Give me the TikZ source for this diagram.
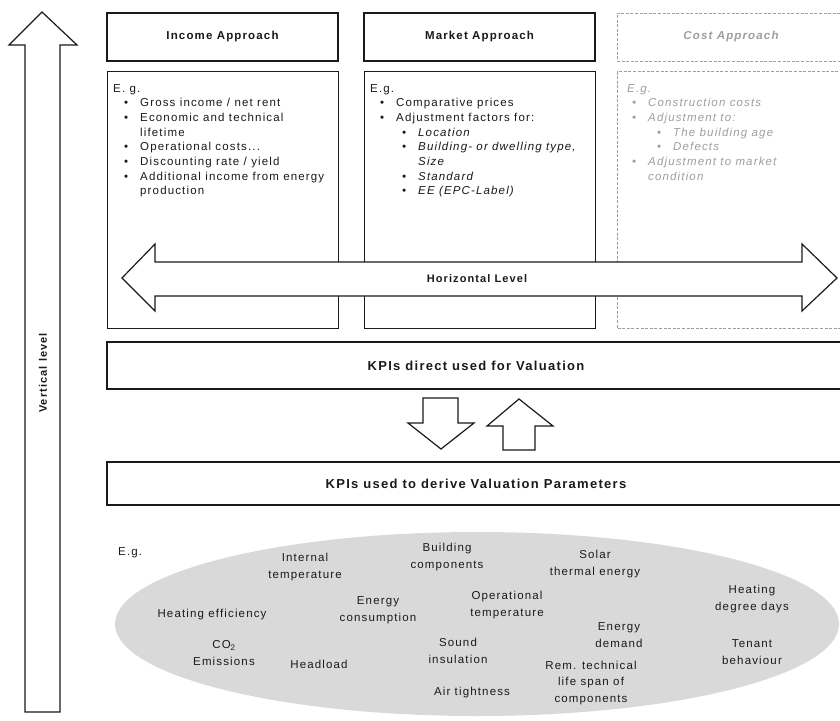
\documentclass[tikz,border=0pt]{standalone}
\usepackage{fontspec}
\setmainfont{Liberation Sans}[LetterSpace=10]
\usetikzlibrary{shapes.geometric}
\definecolor{ink}{HTML}{1A1A1A}
\definecolor{costgray}{HTML}{9E9E9E}
\definecolor{ellgray}{HTML}{D9D9D9}
\newcommand\bul{\llap{\textbullet\hspace{12pt}}}
\begin{document}
\begin{tikzpicture}[x=1pt,y=-1pt,
  box/.style={draw=ink, line width=1.2pt, fill=white, inner sep=0pt},
  costbox/.style={draw=costgray, line width=1pt, dash pattern=on 3pt off 1.6pt, inner sep=0pt},
  hd/.style={font=\fontsize{11.5}{13}\selectfont\bfseries, text=ink},
  kpi/.style={font=\fontsize{13}{15}\selectfont\bfseries, text=ink},
  ln/.style={anchor=base west, inner sep=0pt, font=\fontsize{11.5}{13}\selectfont, text=ink},
  lni/.style={ln, font=\fontsize{11.5}{13}\selectfont\itshape},
  cln/.style={ln, text=costgray, font=\fontsize{11.5}{13}\selectfont\itshape},
  blk/.style={draw=ink, line width=1.2pt, fill=white, line join=miter},
  lab/.style={align=center, font=\fontsize{11.5}{16.5}\selectfont, text=ink, inner sep=0pt}
]
\useasboundingbox (0,0) rectangle (840,720);
\fill[white] (0,0) rectangle (840,720);
\clip (0,0) rectangle (840,720);

% vertical arrow
\draw[blk] (25,712) -- (25,45) -- (9,45) -- (42,12) -- (77,45) -- (60,45) -- (60,712) -- cycle;
\node[rotate=90, font=\fontsize{11}{13}\selectfont\bfseries, text=ink] (vlevel) at (43,373) {Vertical level};

% headers
\node[box, minimum width=231pt, minimum height=48pt, hd] (inchead) at (222.5,37) {Income Approach};
\node[box, minimum width=231pt, minimum height=48pt, hd] (mkthead) at (479.5,37) {Market Approach};
\node[costbox, minimum width=228pt, minimum height=48pt, hd, text=costgray, font=\fontsize{11.5}{13}\selectfont\bfseries\itshape] (costhead) at (731,37) {Cost Approach};

% bodies
\node[box, minimum width=231pt, minimum height=257pt, anchor=north west] (incbody) at (107,71) {};
\node[box, minimum width=231pt, minimum height=257pt, anchor=north west] (mktbody) at (364,71) {};
\node[costbox, minimum width=228pt, minimum height=257pt, anchor=north west] (costbody) at (617,71) {};

% income text
\node[ln] (i0) at (113,92) {E. g.};
\node[ln] (i1) at (140,106.7) {\bul Gross income / net rent};
\node[ln] (i2) at (140,121.4) {\bul Economic and technical};
\node[ln] (i3) at (140,136.1) {lifetime};
\node[ln] (i4) at (140,150.8) {\bul Operational costs...};
\node[ln] (i5) at (140,165.5) {\bul Discounting rate / yield};
\node[ln] (i6) at (140,180.2) {\bul Additional income from energy};
\node[ln] (i7) at (140,194.9) {production};

% market text
\node[ln] (m0) at (370,92) {E.g.};
\node[ln] (m1) at (396,106.7) {\bul Comparative prices};
\node[ln] (m2) at (396,121.4) {\bul Adjustment factors for:};
\node[lni] (m3) at (418,136.1) {\bul Location};
\node[lni] (m4) at (418,150.8) {\bul Building- or dwelling type,};
\node[lni] (m5) at (418,165.5) {Size};
\node[lni] (m6) at (418,180.2) {\bul Standard};
\node[lni] (m7) at (418,194.9) {\bul EE (EPC-Label)};

% cost text
\node[cln] (c0) at (627,92) {E.g.};
\node[cln] (c1) at (648,106.7) {\bul Construction costs};
\node[cln] (c2) at (648,121.4) {\bul Adjustment to:};
\node[cln] (c3) at (673,136.1) {\bul The building age};
\node[cln] (c4) at (673,150.8) {\bul Defects};
\node[cln] (c5) at (648,165.5) {\bul Adjustment to market};
\node[cln] (c6) at (648,180.2) {condition};

% horizontal arrow
\draw[blk] (122,278) -- (155,244) -- (155,262) -- (802,262) -- (802,244) -- (837,278)
  -- (802,311) -- (802,296) -- (155,296) -- (155,311) -- cycle;
\node[font=\fontsize{11}{13}\selectfont\bfseries, text=ink] (hlevel) at (477,279) {Horizontal Level};

% KPI boxes
\node[box, minimum width=738pt, minimum height=47pt, kpi] (kpidirect) at (476,365.5) {KPIs direct used for Valuation};
\node[box, minimum width=738pt, minimum height=43pt, kpi] (kpiderive) at (476,483.5) {KPIs used to derive Valuation Parameters};

% down / up arrows
\draw[blk] (423,398) -- (458,398) -- (458,423) -- (474,423) -- (441,449) -- (408,423) -- (423,423) -- cycle;
\draw[blk] (503,450) -- (503,426) -- (487,426) -- (519,399) -- (553,426) -- (535,426) -- (535,450) -- cycle;

% ellipse
\node[ellipse, fill=ellgray, minimum width=724pt, minimum height=184pt, inner sep=0pt] (kpiell) at (477,624) {};
\node[ln, anchor=west] (eg) at (118,553) {E.g.};
\node[lab] (l1) at (305,567) {Internal\\temperature};
\node[lab] (l2) at (447,557) {Building\\components};
\node[lab] (l3) at (595,564) {Solar\\thermal energy};
\node[lab] (l4) at (752,599) {Heating\\degree days};
\node[lab] (l5) at (212,615) {Heating efficiency};
\node[lab] (l6) at (378,610) {Energy\\consumption};
\node[lab] (l7) at (507,605) {Operational\\temperature};
\node[lab] (l8) at (619,635) {Energy\\demand};
\node[lab] (l9) at (752,652) {Tenant\\behaviour};
\node[lab] (l10) at (224,653) {CO\textsubscript{2}\\Emissions};
\node[lab] (l11) at (319,664) {Headload};
\node[lab] (l12) at (458,651) {Sound\\insulation};
\node[lab] (l13) at (591,683) {Rem. technical\\life span of\\components};
\node[lab] (l14) at (472,693) {Air tightness};
\end{tikzpicture}
\end{document}
